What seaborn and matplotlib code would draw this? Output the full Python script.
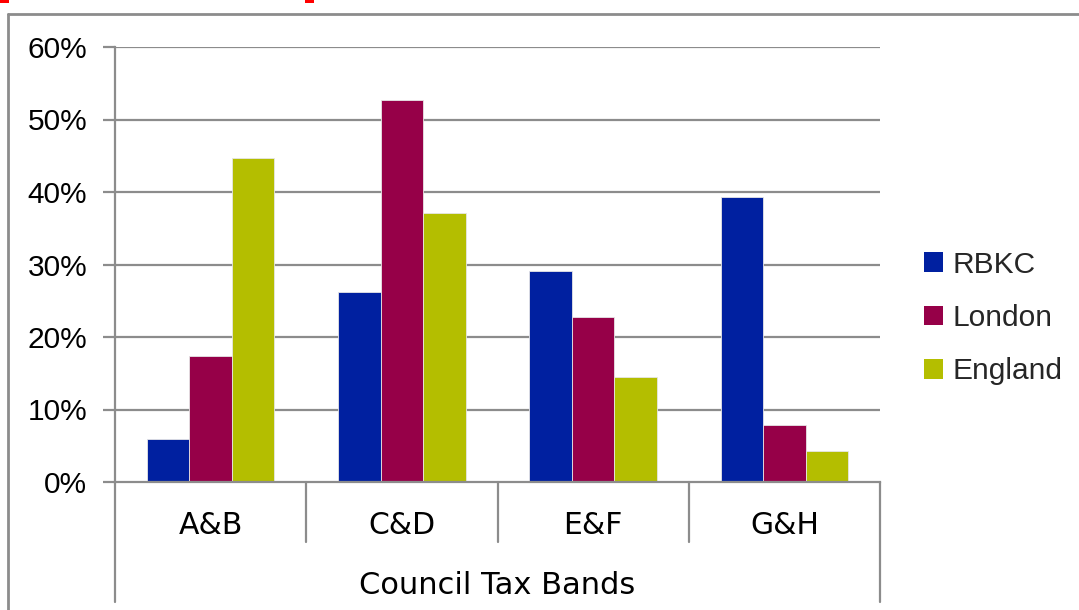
import matplotlib
matplotlib.use("Agg")
import matplotlib.pyplot as plt
import matplotlib.patches as mpatches
from matplotlib.lines import Line2D
import seaborn as sns
import pandas as pd

categories = ["A&B", "C&D", "E&F", "G&H"]
series = ["RBKC", "London", "England"]
rbkc = [5.9, 26.2, 29.1, 39.3]
london = [17.4, 52.7, 22.8, 7.9]
england = [44.7, 37.1, 14.5, 4.3]
colors = ["#0020A0", "#960048", "#B4BE00"]
y_ticks = [0, 10, 20, 30, 40, 50, 60]
y_tick_labels = ["0%", "10%", "20%", "30%", "40%", "50%", "60%"]
x_title = "Council Tax Bands"

df = pd.DataFrame({
    "band": categories * 3,
    "series": [s for s in series for _ in categories],
    "value": rbkc + london + england,
})

sns.set_theme(style="white")
plt.rcParams["font.family"] = ["Liberation Sans", "DejaVu Sans"]

W, H = 1079, 610
fig = plt.figure(figsize=(W / 100, H / 100), dpi=100)
ax = fig.add_axes([115 / W, 1 - 482 / H, (880 - 115) / W, (482 - 47) / H])

grid_c = "#8C8C8C"
for t in y_ticks[1:]:
    ax.axhline(t, color=grid_c, lw=1.6, zorder=0)

sns.barplot(data=df, x="band", y="value", hue="series", order=categories,
            hue_order=series, palette=colors, width=0.667, gap=0,
            saturation=1, edgecolor="#E6E6E6", linewidth=0.6, ax=ax,
            legend=False, zorder=2)

ax.set_xlim(-0.5, 3.5)
ax.set_ylim(0, 60)
ax.set_yticks(y_ticks)
ax.set_yticklabels(y_tick_labels, fontsize=21.5, color="black")
ax.tick_params(axis="y", length=9, width=1.6, color=grid_c, pad=11, left=True)
ax.set_xticks([])
ax.set_xlabel("")
ax.set_ylabel("")
for s in ["top", "right"]:
    ax.spines[s].set_visible(False)
for s in ["left", "bottom"]:
    ax.spines[s].set_color(grid_c)
    ax.spines[s].set_linewidth(1.6)

trans = ax.get_xaxis_transform()
ylow_in = -(542 - 482) / (482 - 47)
ylow_out = -(602 - 482) / (482 - 47)
for i, xb in enumerate([-0.5, 0.5, 1.5, 2.5, 3.5]):
    y0 = ylow_out if i in (0, 4) else ylow_in
    ax.plot([xb, xb], [0, y0], transform=trans, color=grid_c, lw=1.6,
            clip_on=False, zorder=3)

for i, c in enumerate(categories):
    ax.text(i, -(525 - 482) / (482 - 47), c, transform=trans, ha="center",
            va="center", fontsize=21.5, family="DejaVu Sans", color="black")
ax.text(1.5, -(585 - 482) / (482 - 47), x_title, transform=trans, ha="center",
        va="center", fontsize=22, family="DejaVu Sans", color="black")

handles = [mpatches.Patch(facecolor=c, edgecolor="none") for c in colors]
fig.legend(handles, series, loc="center left", bbox_to_anchor=(924 / W, 1 - 318 / H),
           frameon=False, fontsize=21.5, handlelength=0.62, handleheight=0.62,
           handletextpad=0.32, labelspacing=0.85, borderaxespad=0, borderpad=0)

# outer chart border (top and left)
fig.add_artist(Line2D([8 / W, 8 / W], [0, 1 - 14 / H], transform=fig.transFigure,
                      color=grid_c, lw=2))
fig.add_artist(Line2D([8 / W, 1], [1 - 14 / H, 1 - 14 / H], transform=fig.transFigure,
                      color=grid_c, lw=2))
# red marks at top edge
for x0, x1 in [(0, 9), (305, 314)]:
    fig.add_artist(mpatches.Rectangle((x0 / W, 1 - 3 / H), (x1 - x0) / W, 3 / H,
                                      transform=fig.transFigure, facecolor="red",
                                      edgecolor="none"))

fig.savefig("out.png", dpi=100)
